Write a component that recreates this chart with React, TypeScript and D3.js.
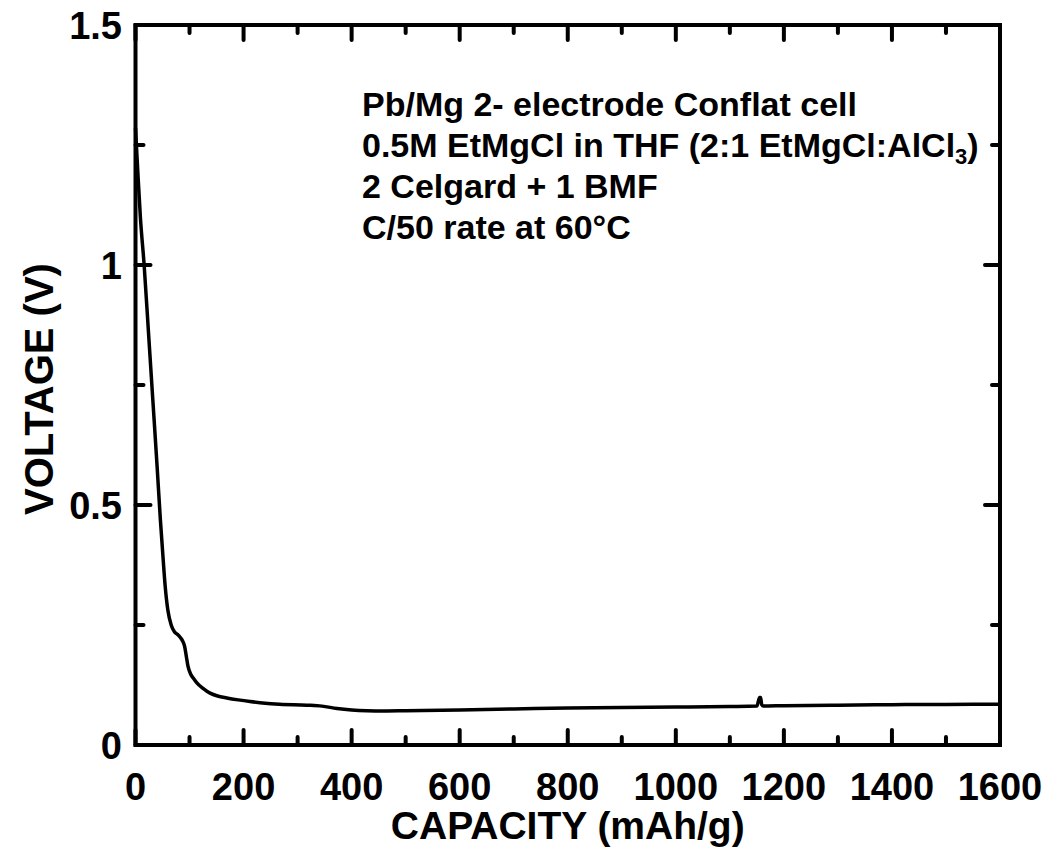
import React from "react";
import * as d3 from "d3";

const capacity = [0, 4, 9, 16, 24, 32, 40, 46, 51, 55, 60, 66, 72, 78, 83, 88, 91, 94, 97, 102, 108, 114, 125, 138, 152, 169, 190, 212, 240, 267, 317, 345, 373, 400, 428, 460, 500, 600, 700, 800, 900, 1000, 1100, 1150, 1155, 1157, 1159, 1162, 1200, 1300, 1400, 1500, 1600];
const voltage = [1.285, 1.2, 1.1, 1.0, 0.86, 0.72, 0.58, 0.47, 0.39, 0.33, 0.28, 0.25, 0.236, 0.23, 0.224, 0.215, 0.205, 0.185, 0.165, 0.148, 0.138, 0.129, 0.118, 0.108, 0.102, 0.098, 0.094, 0.0905, 0.087, 0.085, 0.083, 0.081, 0.076, 0.073, 0.0715, 0.071, 0.0715, 0.073, 0.075, 0.077, 0.078, 0.079, 0.080, 0.081, 0.099, 0.099, 0.084, 0.081, 0.082, 0.083, 0.084, 0.0845, 0.085];

const xTicks = [0, 200, 400, 600, 800, 1000, 1200, 1400, 1600];
const xMinorTicks = [100, 300, 500, 700, 900, 1100, 1300, 1500];
const yTicks = [0, 0.5, 1, 1.5];
const yTickLabels = ["0", "0.5", "1", "1.5"];
const yMinorTicks = [0.25, 0.75, 1.25];
const annotationLines = [
  "Pb/Mg 2- electrode Conflat cell",
  "0.5M EtMgCl in THF (2:1 EtMgCl:AlCl",
  "2 Celgard + 1 BMF",
  "C/50 rate at 60°C",
];

const W = 1055;
const H = 867;
const L = 135.5, R = 1000, T = 25, B = 745;
const FONT = "'Liberation Sans', Arial, Helvetica, sans-serif";

export default function App() {
  const x = d3.scaleLinear().domain([0, 1600]).range([L, R]);
  const y = d3.scaleLinear().domain([0, 1.5]).range([B, T]);
  const pts: [number, number][] = capacity.map((c, i) => [c, voltage[i]]);
  const line = d3
    .line<[number, number]>()
    .x((d) => x(d[0]))
    .y((d) => y(d[1]))
    .curve(d3.curveMonotoneX);

  const major = 15;
  const minor = 8;
  const tickStyle = { stroke: "#000", strokeWidth: 4, strokeLinecap: "round" as const };

  return (
    <svg width={W} height={H} style={{ position: "absolute", left: 0, top: 0, background: "#fff" }}>
      <rect x={0} y={0} width={W} height={H} fill="#fff" />
      {xTicks.map((t) => (
        <g key={"xt" + t}>
          <line x1={x(t)} x2={x(t)} y1={B} y2={B - major} {...tickStyle} />
          <line x1={x(t)} x2={x(t)} y1={T} y2={T + major} {...tickStyle} />
        </g>
      ))}
      {xMinorTicks.map((t) => (
        <g key={"xm" + t}>
          <line x1={x(t)} x2={x(t)} y1={B} y2={B - minor} {...tickStyle} />
          <line x1={x(t)} x2={x(t)} y1={T} y2={T + minor} {...tickStyle} />
        </g>
      ))}
      {yTicks.map((t) => (
        <g key={"yt" + t}>
          <line x1={L} x2={L + major} y1={y(t)} y2={y(t)} {...tickStyle} />
          <line x1={R} x2={R - major} y1={y(t)} y2={y(t)} {...tickStyle} />
        </g>
      ))}
      {yMinorTicks.map((t) => (
        <g key={"ym" + t}>
          <line x1={L} x2={L + minor} y1={y(t)} y2={y(t)} {...tickStyle} />
          <line x1={R} x2={R - minor} y1={y(t)} y2={y(t)} {...tickStyle} />
        </g>
      ))}
      <path d={line(pts) || ""} fill="none" stroke="#000" strokeWidth={3.5} strokeLinejoin="round" />
      <rect x={L} y={T} width={R - L} height={B - T} fill="none" stroke="#000" strokeWidth={4} />
      {xTicks.map((t) => (
        <text key={"xl" + t} x={x(t)} y={800} textAnchor="middle" fontFamily={FONT} fontWeight="bold" fontSize={38}>
          {t}
        </text>
      ))}
      {yTicks.map((t, i) => (
        <text key={"yl" + t} x={122} y={y(t)} dy="0.36em" textAnchor="end" fontFamily={FONT} fontWeight="bold" fontSize={38}>
          {yTickLabels[i]}
        </text>
      ))}
      <text x={(L + R) / 2} y={839} textAnchor="middle" fontFamily={FONT} fontWeight="bold" fontSize={39}>
        CAPACITY (mAh/g)
      </text>
      <text
        transform={`translate(53, ${(T + B) / 2 + 4}) rotate(-90)`}
        textAnchor="middle"
        fontFamily={FONT}
        fontWeight="bold"
        fontSize={40}
      >
        VOLTAGE (V)
      </text>
      {annotationLines.map((s, i) => (
        <text key={"an" + i} x={362} y={116 + i * 41} fontFamily={FONT} fontWeight="bold" fontSize={34}>
          {s}
          {i === 1 ? (
            <>
              <tspan fontSize={22} dy={7}>3</tspan>
              <tspan dy={-7}>)</tspan>
            </>
          ) : null}
        </text>
      ))}
    </svg>
  );
}
